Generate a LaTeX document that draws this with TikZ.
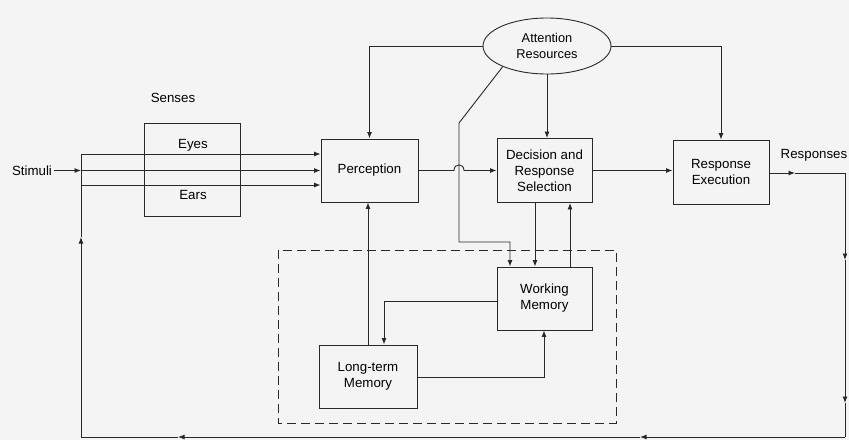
\documentclass[tikz,border=0pt]{standalone}
\usepackage{fontspec}
\setmainfont{Liberation Sans}
\usetikzlibrary{arrows.meta,shapes.geometric}
\definecolor{bgc}{RGB}{244,244,244}
\definecolor{inkc}{RGB}{40,40,40}
\begin{document}
\begin{tikzpicture}[x=1pt,y=-1pt,
  font=\fontsize{13.3}{16}\selectfont,
  ln/.style={draw=inkc,line width=0.9pt},
  arr/.style={ln,-{Latex[length=6.5pt,width=5pt]}},
  box/.style={draw=inkc,line width=0.9pt,fill=bgc,minimum width=96pt,minimum height=63pt,inner sep=0pt,align=center},
  lbl/.style={inner sep=2pt,align=center}]
\fill[bgc] (0,0) rectangle (849,440);
\useasboundingbox (0,0) rectangle (849,440);

% nodes
\node[box,minimum height=93pt] (sen) at (192,169.5) {};
\node[lbl] (senl) at (173,98) {Senses};
\node[lbl] (eyes) at (193,145) {Eyes};
\node[lbl] (ears) at (193,195) {Ears};
\node[lbl] (stim) at (32,170.5) {Stimuli};
\node[box,minimum width=97pt] (perc) at (369.5,170.5) {Perception};
\node[box,minimum width=95pt,minimum height=64pt] (dec) at (544.5,170.5) {Decision and\\Response\\Selection};
\node[box,minimum height=64pt] (resp) at (721,172) {Response\\Execution};
\node[lbl] (resl) at (814,155) {Responses};
\node[draw=inkc,line width=0.9pt,fill=bgc,ellipse,minimum width=128pt,minimum height=56pt,inner sep=0pt,align=center,font=\fontsize{12.8}{15.5}\selectfont] (att) at (547,46) {Attention\\Resources};
\node[box,minimum width=95pt] (wm) at (544.5,298.5) {Working\\Memory};
\node[box,minimum width=98pt] (ltm) at (368,376.5) {Long-term\\Memory};

% dashed memory region
\draw[ln,dash pattern=on 9pt off 5pt] (278,250) rectangle (616,423);

% coordinates
\coordinate (L1) at (81,154);
\coordinate (Lm) at (81,170.5);
\coordinate (Lb) at (81,185);
\coordinate (La) at (81,237);
\coordinate (L2) at (81,437);
\coordinate (B1) at (178,437);
\coordinate (B2) at (640,437);
\coordinate (R2) at (845,437);
\coordinate (Rb) at (845,403);
\coordinate (Ra) at (845,260);
\coordinate (R1) at (845,173);
\coordinate (Rm) at (795,173);
\coordinate (A1) at (459,123);
\coordinate (A2) at (459,242);
\coordinate (A3) at (510,242);
\coordinate (xa) at (535,0);
\coordinate (xb) at (570,0);
\coordinate (c1) at (384,301);
\coordinate (c2) at (544,377);

% stimuli into perception
\draw[arr] (stim.east) -- (Lm);
\draw[arr] (Lm) -- (Lm -| perc.west);
\draw[arr] (L1) -- (L1 -| perc.west);
\draw[arr] (Lb) -- (Lb -| perc.west);

% perception -> decision with hop
\draw[arr] (perc.east) -- (454,170.5) .. controls (454,163) and (464,163) .. (464,170.5) -- (perc.east -| dec.west);
% decision -> response execution
\draw[arr] (dec.east) -- (dec.east -| resp.west);
% responses output
\draw[arr] (resp.east |- Rm) -- (Rm);
\draw[ln] (Rm) -- (R1);
% feedback loop
\draw[arr] (R1) -- (Ra);
\draw[arr] (Ra) -- (Rb);
\draw[ln] (Rb) -- (R2);
\draw[arr] (R2) -- (B2);
\draw[arr] (B2) -- (B1);
\draw[ln] (B1) -- (L2);
\draw[arr] (L2) -- (La);
\draw[ln] (La) -- (L1);

% attention resources
\draw[arr] (att.west) -| (perc.north);
\draw[arr] (att.east) -| (resp.north);
\draw[arr] (att.south) -- (att.south |- dec.north);
\draw[arr] (att.205) -- (A1) -- (A2) -- (A3) -- (A3 |- wm.north);

% decision <-> working memory
\draw[arr] (dec.south -| xa) -- (wm.north -| xa);
\draw[arr] (wm.north -| xb) -- (dec.south -| xb);

% working memory <-> long-term memory
\draw[arr] (wm.west |- c1) -- (c1) -- (c1 |- ltm.north);
\draw[arr] (ltm.east |- c2) -- (c2) -- (c2 |- wm.south);
\draw[arr] (ltm.north) -- (ltm.north |- perc.south);
\end{tikzpicture}
\end{document}
